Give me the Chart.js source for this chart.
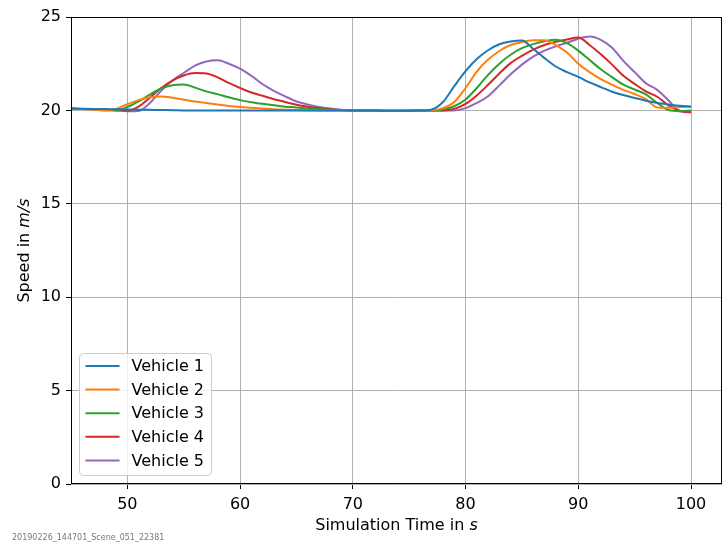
<!DOCTYPE html>
<html lang="en">
<head>
  <meta charset="UTF-8">
  <title>Vehicle Speeds</title>
  <script src="https://cdn.jsdelivr.net/npm/chart.js"></script>
  <style>
    body {
      margin: 0;
      background-color: #fff;
    }

    #chart-container {
      width: 726px;
      height: 543px;
    }
  </style>
</head>
<body>
  <div id="chart-container">
    <canvas id="speedChart" width="726" height="543"></canvas>
  </div>

  <script>
    const times = [45, 46, 47, 48, 49, 50, 51, 52, 53, 54, 55, 56, 57, 58, 59, 60, 61, 62, 63, 64, 65, 66, 67, 68,
      70, 72, 74, 76,
      77, 78, 79, 80, 81, 82, 83, 84, 85, 86, 87, 88, 89, 90, 91, 92, 93, 94, 95, 96, 97, 98, 99, 100];

    const vehicle1 = [20.1, 20.09, 20.08, 20.07, 20.06, 20.05, 20.04, 20.03, 20.02, 20.01, 20.0, 20.0, 20.0, 20.0, 20.0, 20.0, 20.0, 20.0, 20.0, 20.0, 20.0, 20.0, 20.0, 20.0,
      20.0, 19.99, 19.98, 19.99,
      20.05, 20.45, 21.3, 22.1, 22.75, 23.22, 23.54, 23.69, 23.74, 23.3, 22.8, 22.35, 22.05, 21.79, 21.5, 21.25, 21.0, 20.82, 20.66, 20.52, 20.4, 20.32, 20.25, 20.21];

    const vehicle2 = [20.1, 20.08, 20.05, 19.98, 20.08, 20.33, 20.55, 20.7, 20.75, 20.68, 20.57, 20.48, 20.4, 20.32, 20.24, 20.18, 20.14, 20.1, 20.06, 20.04, 20.02, 20.01, 20.0, 20.0,
      20.0, 19.99, 19.98, 19.99,
      20.0, 20.12, 20.45, 21.2, 22.08, 22.72, 23.18, 23.5, 23.66, 23.75, 23.76, 23.5, 23.1, 22.5, 22.05, 21.68, 21.38, 21.1, 20.88, 20.6, 20.16, 20.14, 20.18, 20.2];

    const vehicle3 = [20.1, 20.08, 20.07, 20.03, 20.0, 20.18, 20.48, 20.85, 21.17, 21.35, 21.39, 21.22, 21.02, 20.87, 20.7, 20.55, 20.44, 20.35, 20.27, 20.2, 20.16, 20.1, 20.06, 20.03,
      20.0, 19.99, 19.98, 19.99,
      20.0, 20.05, 20.22, 20.58, 21.2, 21.9, 22.5, 22.98, 23.33, 23.55, 23.7, 23.78, 23.6, 23.2, 22.7, 22.2, 21.78, 21.38, 21.12, 20.86, 20.4, 20.02, 19.96, 20.0];

    const vehicle4 = [20.1, 20.08, 20.07, 20.05, 20.02, 19.98, 20.2, 20.68, 21.2, 21.6, 21.87, 22.0, 21.98, 21.77, 21.47, 21.2, 20.96, 20.78, 20.6, 20.45, 20.3, 20.2, 20.11, 20.05,
      20.0, 19.99, 19.98, 19.99,
      20.0, 20.0, 20.08, 20.35, 20.8, 21.37, 21.98, 22.53, 22.92, 23.25, 23.5, 23.67, 23.8, 23.9, 23.5, 23.0, 22.45, 21.85, 21.42, 21.02, 20.73, 20.27, 19.98, 19.9];

    const vehicle5 = [20.1, 20.08, 20.05, 20.02, 20.0, 19.96, 19.97, 20.4, 21.05, 21.6, 22.0, 22.4, 22.62, 22.68, 22.5, 22.23, 21.85, 21.4, 21.05, 20.75, 20.48, 20.32, 20.18, 20.1,
      20.0, 19.99, 19.98, 19.99,
      19.99, 20.0, 20.0, 20.12, 20.4, 20.76, 21.34, 21.93, 22.45, 22.88, 23.2, 23.43, 23.62, 23.84, 23.96, 23.78, 23.35, 22.65, 22.05, 21.45, 21.1, 20.54, 19.95, 19.9];

    const vehicleNames = ['Vehicle 1', 'Vehicle 2', 'Vehicle 3', 'Vehicle 4', 'Vehicle 5'];
    const vehicleColors = ['#1f77b4', '#ff7f0e', '#2ca02c', '#d62728', '#9467bd'];
    const xTicks = [50, 60, 70, 80, 90, 100];
    const yTicks = [0, 5, 10, 15, 20, 25];
    const sceneId = '20190226_144701_Scene_051_22381';

    const FONT = 'DejaVu Sans';
    const series = [vehicle1, vehicle2, vehicle3, vehicle4, vehicle5];

    // draws "normal" + italic pieces of a label, centred on x
    function drawMixed(ctx, parts, x, y) {
      let total = 0;
      parts.forEach(p => {
        ctx.font = (p[1] ? 'italic ' : '') + '16px "' + FONT + '"';
        total += ctx.measureText(p[0]).width;
      });
      let cx = x - total / 2;
      parts.forEach(p => {
        ctx.font = (p[1] ? 'italic ' : '') + '16px "' + FONT + '"';
        ctx.fillText(p[0], cx, y);
        cx += ctx.measureText(p[0]).width;
      });
    }

    const decorations = {
      id: 'decorations',
      afterDatasetsDraw(chart) {
        const { ctx, chartArea: a } = chart;
        ctx.save();
        ctx.strokeStyle = '#000';
        ctx.lineWidth = 1;
        ctx.strokeRect(a.left + 0.5, a.top + 0.5, a.right - a.left - 1, a.bottom - a.top - 1);
        ctx.restore();
      },
      afterDraw(chart) {
        const { ctx, chartArea: a } = chart;
        ctx.save();

        // legend box, lower left inside the axes
        const bx = a.left + 8.5, by = a.bottom - 130.5, bw = 132, bh = 122;
        ctx.beginPath();
        ctx.roundRect(bx, by, bw, bh, 4);
        ctx.fillStyle = 'rgba(255,255,255,0.8)';
        ctx.fill();
        ctx.strokeStyle = '#cccccc';
        ctx.lineWidth = 1;
        ctx.stroke();

        ctx.font = '16px "' + FONT + '"';
        ctx.textBaseline = 'middle';
        chart.data.datasets.forEach((ds, i) => {
          const ly = by + 12.5 + i * 23.6;
          ctx.strokeStyle = ds.borderColor;
          ctx.lineWidth = 2;
          ctx.beginPath();
          ctx.moveTo(bx + 6, ly);
          ctx.lineTo(bx + 40, ly);
          ctx.stroke();
          ctx.fillStyle = '#000';
          ctx.fillText(ds.label, bx + 52, ly + 1);
        });

        // axis titles
        ctx.fillStyle = '#000';
        ctx.textAlign = 'left';
        ctx.textBaseline = 'alphabetic';
        drawMixed(ctx, [['Simulation Time in ', false], ['s', true]], (a.left + a.right) / 2, 530);

        ctx.save();
        ctx.translate(28.5, (a.top + a.bottom) / 2);
        ctx.rotate(-Math.PI / 2);
        drawMixed(ctx, [['Speed in ', false], ['m/s', true]], 0, 0);
        ctx.restore();

        // scene id footer
        ctx.font = '8px "' + FONT + '"';
        ctx.fillStyle = '#777';
        ctx.fillText(sceneId, 12, 540);

        ctx.restore();
      }
    };

    const tickFont = { family: FONT, size: 16 };

    new Chart(document.getElementById('speedChart').getContext('2d'), {
      type: 'line',
      data: {
        datasets: series.map((values, i) => ({
          label: vehicleNames[i],
          data: values.map((v, j) => ({ x: times[j], y: v })),
          borderColor: vehicleColors[i],
          backgroundColor: vehicleColors[i],
          borderWidth: 2,
          pointRadius: 0,
          fill: false,
          cubicInterpolationMode: 'monotone'
        }))
      },
      options: {
        responsive: false,
        animation: false,
        layout: { padding: { top: 17, right: 4, left: 0, bottom: 0 } },
        plugins: {
          legend: { display: false },
          tooltip: { enabled: false }
        },
        scales: {
          x: {
            type: 'linear',
            min: 45,
            max: 102.75,
            afterBuildTicks: s => { s.ticks = xTicks.map(v => ({ value: v })); },
            afterFit: s => { s.height = 59; },
            grid: { color: '#b0b0b0', tickColor: '#000', tickLength: 5 },
            border: { display: false },
            ticks: { font: tickFont, color: '#000', padding: 6, maxRotation: 0, autoSkip: false }
          },
          y: {
            type: 'linear',
            min: 0,
            max: 25,
            afterBuildTicks: s => { s.ticks = yTicks.map(v => ({ value: v })); },
            afterFit: s => { s.width = 71; },
            grid: { color: '#b0b0b0', tickColor: '#000', tickLength: 5 },
            border: { display: false },
            ticks: { font: tickFont, color: '#000', padding: 5 }
          }
        }
      },
      plugins: [decorations]
    });
  </script>
</body>
</html>
